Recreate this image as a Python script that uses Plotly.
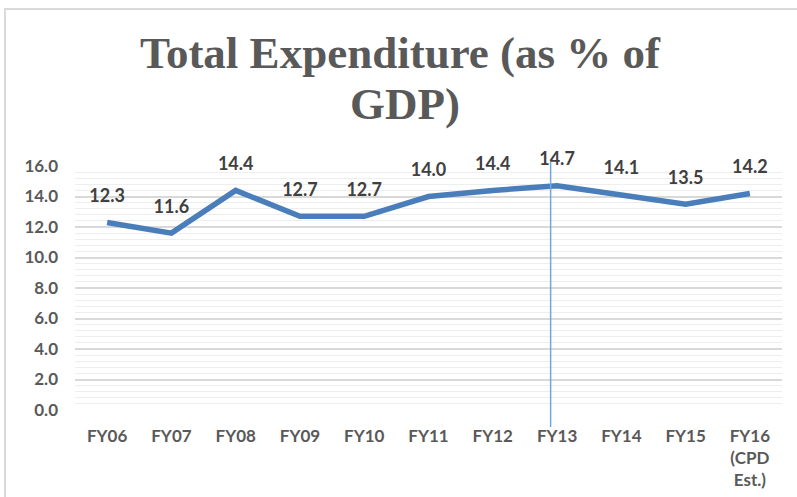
import plotly.graph_objects as go

categories = ["FY06", "FY07", "FY08", "FY09", "FY10", "FY11", "FY12", "FY13", "FY14", "FY15", "FY16<br>(CPD<br>Est.)"]
values = [12.3, 11.6, 14.4, 12.7, 12.7, 14.0, 14.4, 14.7, 14.1, 13.5, 14.2]
labels = [f"{v:.1f}" for v in values]
ytick_vals = [0, 2, 4, 6, 8, 10, 12, 14, 16]
ytick_text = [f"{v:.1f}" for v in ytick_vals]

W, H = 797, 497
ml, mr, mt, mb = 75, 15, 166, 87
pw, ph = W - ml - mr, H - mt - mb

fig = go.Figure()
fig.add_trace(go.Scatter(
    x=categories, y=values, mode="lines+markers+text",
    line=dict(color="#4A7EBB", width=5.5),
    marker=dict(size=24, color="rgba(0,0,0,0)"),
    text=labels, textposition="top center",
    textfont=dict(family="Lato", size=18, color="#404040", weight="bold"),
    cliponaxis=False, hoverinfo="skip", showlegend=False,
))

def py(pix):
    return (H - mb - pix) / ph

def px(pix):
    return (pix - ml) / pw

shapes = [
    dict(type="rect", xref="paper", yref="paper", x0=px(5), x1=px(830), y0=py(540), y1=py(9),
         line=dict(color="#D9D9D9", width=2), fillcolor="rgba(0,0,0,0)", layer="below"),
    dict(type="line", xref="x", yref="paper", x0=6.9, x1=6.9, y0=py(427), y1=py(162),
         line=dict(color="#6FA8DC", width=1.5)),
]

title_font = dict(family="Liberation Serif", size=45, color="#595959", weight="bold")

fig.update_layout(
    width=W, height=H,
    margin=dict(l=ml, r=mr, t=mt, b=mb, autoexpand=False),
    paper_bgcolor="white", plot_bgcolor="white",
    shapes=shapes,
    annotations=[
        dict(text="Total Expenditure (as % of", xref="paper", yref="paper",
             x=px(400), y=py(69), xanchor="center", yanchor="bottom", showarrow=False, yshift=-11,
             font=title_font),
        dict(text="GDP)", xref="paper", yref="paper",
             x=px(405), y=py(120), xanchor="center", yanchor="bottom", showarrow=False, yshift=-11,
             font=title_font),
    ],
    xaxis=dict(
        type="category", range=[-0.5, 10.5], autorange=False, automargin=False,
        showgrid=False, zeroline=False, showline=False, ticks="",
        tickfont=dict(family="Lato", size=17, color="#595959", weight="bold"),
        ticklabelstandoff=14,
    ),
    yaxis=dict(
        range=[0, 16], autorange=False, automargin=False,
        tickvals=ytick_vals, ticktext=ytick_text,
        showgrid=True, gridcolor="#D9D9D9", gridwidth=1.5,
        zeroline=False, showline=False, ticks="",
        tickfont=dict(family="Lato", size=17, color="#595959", weight="bold"),
        ticklabelstandoff=16,
        minor=dict(dtick=0.4, tick0=0, showgrid=True, gridcolor="#EEEEEE", gridwidth=1),
    ),
)

fig.write_html("out.html", config={"displayModeBar": False},
               post_script="document.body.style.margin='0';")
